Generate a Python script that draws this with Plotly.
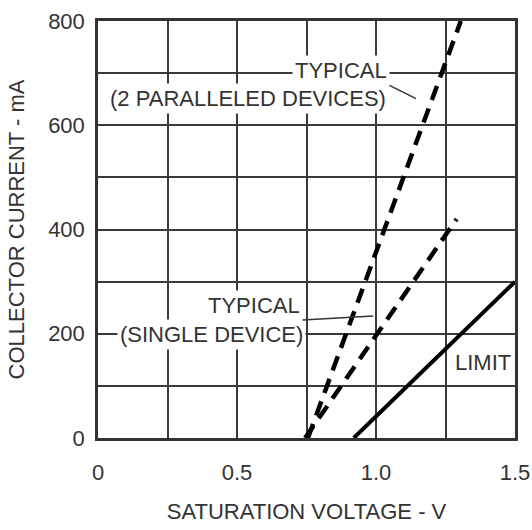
import plotly.graph_objects as go

# Data
volt_parallel = [0.755, 1.305]
cur_parallel = [0, 800]
volt_single = [0.745, 1.29]
cur_single = [0, 420]
volt_limit = [0.92, 1.5]
cur_limit = [0, 300]

x_tickvals = [0, 0.25, 0.5, 0.75, 1.0, 1.25, 1.5]
x_ticktext = ["0", "", "0.5", "", "1.0", "", "1.5"]
y_tickvals = [0, 100, 200, 300, 400, 500, 600, 700, 800]
y_ticktext = ["0", "", "200", "", "400", "", "600", "", "800"]

FONT = "Liberation Sans"
TXT = "#333333"
FS = 22

fig = go.Figure()
fig.add_trace(go.Scatter(x=volt_parallel, y=cur_parallel, mode="lines",
                         line=dict(color="black", width=4.5, dash="15px,9px"),
                         showlegend=False, hoverinfo="skip"))
fig.add_trace(go.Scatter(x=volt_single, y=cur_single, mode="lines",
                         line=dict(color="black", width=4.5, dash="15px,9px"),
                         showlegend=False, hoverinfo="skip"))
fig.add_trace(go.Scatter(x=volt_limit, y=cur_limit, mode="lines",
                         line=dict(color="black", width=4),
                         showlegend=False, hoverinfo="skip"))

annots = [
    dict(x=0.874, y=705, text="TYPICAL"),
    dict(x=0.54, y=652, text="(2 PARALLELED DEVICES)"),
    dict(x=0.561, y=255, text="TYPICAL"),
    dict(x=0.41, y=199, text="(SINGLE DEVICE)"),
    dict(x=1.385, y=144, text="LIMIT"),
]
for a in annots:
    fig.add_annotation(x=a["x"], y=a["y"], xref="x", yref="y", text=a["text"],
                       showarrow=False, bgcolor="white", borderpad=2,
                       font=dict(family=FONT, size=FS, color=TXT))

# leader lines
fig.add_annotation(x=1.144, y=651, ax=1.043, ay=678, axref="x", ayref="y",
                   xref="x", yref="y", text="", showarrow=True,
                   arrowhead=0, arrowwidth=1.5, arrowcolor="#333")
fig.add_annotation(x=0.99, y=234, ax=0.73, ay=226, axref="x", ayref="y",
                   xref="x", yref="y", text="", showarrow=True,
                   arrowhead=0, arrowwidth=1.5, arrowcolor="#333")

axis_common = dict(showgrid=True, gridcolor="#3a3a3a", gridwidth=1.5,
                   showline=True, linecolor="#333", linewidth=2.5, mirror=True,
                   ticks="", zeroline=False, automargin=False,
                   tickfont=dict(family=FONT, size=FS, color=TXT))

fig.update_xaxes(range=[0, 1.5], tickvals=x_tickvals, ticktext=x_ticktext,
                 ticklabelstandoff=13,
                 title=dict(text="SATURATION VOLTAGE - V", standoff=20,
                            font=dict(family=FONT, size=FS, color=TXT)),
                 **axis_common)
fig.update_yaxes(range=[0, 800], tickvals=y_tickvals, ticktext=y_ticktext,
                 ticklabelstandoff=6,
                 title=dict(text="COLLECTOR CURRENT - mA", standoff=18,
                            font=dict(family=FONT, size=FS, color=TXT)),
                 **axis_common)

fig.update_layout(width=532, height=530, plot_bgcolor="white", paper_bgcolor="white",
                  margin=dict(l=98, r=17, t=21, b=92))

fig.write_html("out.html", config={"displayModeBar": False},
               post_script="document.body.style.margin='0px';")
